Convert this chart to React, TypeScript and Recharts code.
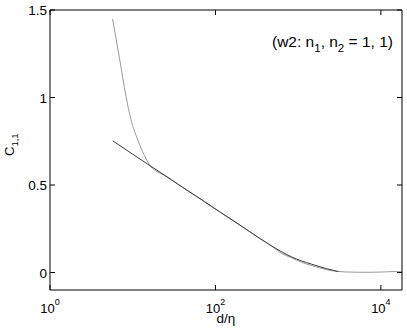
import { LineChart, Line, XAxis, YAxis, Customized } from 'recharts';

// measured curve (gray)
const dataD = [5.7, 6.9, 8.3, 9.5, 11.5, 13.8, 16.6, 20, 24, 40, 67, 120, 205, 330, 473, 650, 826, 1100, 1445, 1800, 2200, 3070, 4500, 6500, 9000, 12000, 15000, 18000];
const dataC = [1.449, 1.227, 1.006, 0.875, 0.758, 0.67, 0.605, 0.575, 0.557, 0.487, 0.418, 0.338, 0.266, 0.2, 0.152, 0.106, 0.085, 0.058, 0.04, 0.027, 0.016, 0.006, 0.002, 0.001, 0.002, 0.004, 0.006, 0.004];

// fitted curve (dark)
const fitD = [5.75, 10, 24, 40, 67, 120, 205, 330, 473, 650, 826, 1100, 1445, 1800, 2200, 3070];
const fitC = [0.752, 0.676, 0.557, 0.487, 0.418, 0.338, 0.266, 0.2, 0.153, 0.115, 0.09, 0.066, 0.048, 0.034, 0.022, 0.005];

const xTicks = [1, 100, 10000];
const xTickExp = ['0', '2', '4'];
const yTicks = [0, 0.5, 1, 1.5];
const yTickLabels = ['0', '0.5', '1', '1.5'];

const measured = dataD.map((d, i) => ({ d, c: dataC[i] }));
const fitted = fitD.map((d, i) => ({ d, c: fitC[i] }));

const FONT = 'Liberation Sans, Arial, Helvetica, sans-serif';
const AXIS = '#000';

function BottomTick({ x, y, payload }: any) {
  const i = xTicks.indexOf(payload.value);
  return (
    <g>
      <line x1={x} y1={y} x2={x} y2={y - 5} stroke={AXIS} />
      <text x={x} y={y + 23} textAnchor="middle" fontSize={13} fontFamily={FONT} fill="#000">
        10
        <tspan dy={-8} fontSize={9}>{xTickExp[i]}</tspan>
      </text>
    </g>
  );
}

function TopTick({ x, y }: any) {
  return <line x1={x} y1={y} x2={x} y2={y + 5} stroke={AXIS} />;
}

function LeftTick({ x, y, payload }: any) {
  const i = yTicks.indexOf(payload.value);
  return (
    <g>
      <line x1={x} y1={y} x2={x + 5} y2={y} stroke={AXIS} />
      <text x={x - 3} y={y + 5} textAnchor="end" fontSize={13.5} fontFamily={FONT} fill="#000">
        {yTickLabels[i]}
      </text>
    </g>
  );
}

function RightTick({ x, y }: any) {
  return <line x1={x} y1={y} x2={x - 5} y2={y} stroke={AXIS} />;
}

function Annotations() {
  return (
    <g fontFamily={FONT} fill="#000">
      <text x={272} y={47} fontSize={15.5}>
        (w2: n<tspan dy={4.5} fontSize={11.5}>1</tspan>
        <tspan dy={-4.5}>, n</tspan>
        <tspan dy={4.5} fontSize={11.5}>2</tspan>
        <tspan dy={-4.5}> = 1, 1)</tspan>
      </text>
      <text x={226} y={323} fontSize={13.5} textAnchor="middle">d/η</text>
      <text transform="translate(14,156) rotate(-90)" fontSize={13}>
        C<tspan dy={4} fontSize={9.5}>1,1</tspan>
      </text>
    </g>
  );
}

export default function App() {
  return (
    <div style={{ position: 'absolute', left: 0, top: 0, background: '#fff' }}>
      <LineChart width={407} height={328} margin={{ top: 9, right: 4, bottom: 0, left: 0 }}>
        <XAxis
          xAxisId="b"
          dataKey="d"
          type="number"
          scale="log"
          domain={[1, 18000]}
          ticks={xTicks}
          allowDataOverflow
          height={38}
          tickSize={0}
          tickMargin={0}
          tickLine={false}
          axisLine={{ stroke: AXIS }}
          tick={<BottomTick />}
        />
        <XAxis
          xAxisId="t"
          dataKey="d"
          type="number"
          scale="log"
          domain={[1, 18000]}
          ticks={xTicks}
          allowDataOverflow
          orientation="top"
          height={1}
          tickSize={0}
          tickMargin={0}
          tickLine={false}
          axisLine={{ stroke: AXIS }}
          tick={<TopTick />}
        />
        <YAxis
          yAxisId="l"
          type="number"
          domain={[-0.1, 1.5]}
          ticks={yTicks}
          allowDataOverflow
          width={50}
          tickSize={0}
          tickMargin={0}
          tickLine={false}
          axisLine={{ stroke: AXIS }}
          tick={<LeftTick />}
        />
        <YAxis
          yAxisId="r"
          type="number"
          domain={[-0.1, 1.5]}
          ticks={yTicks}
          allowDataOverflow
          orientation="right"
          width={1}
          tickSize={0}
          tickMargin={0}
          tickLine={false}
          axisLine={{ stroke: AXIS }}
          tick={<RightTick />}
        />
        <Line
          xAxisId="b"
          yAxisId="l"
          data={measured}
          dataKey="c"
          type="monotone"
          stroke="#9a9a9a"
          strokeWidth={1}
          dot={false}
          isAnimationActive={false}
        />
        <Line
          xAxisId="b"
          yAxisId="l"
          data={fitted}
          dataKey="c"
          type="monotone"
          stroke="#3a3a3a"
          strokeWidth={1}
          dot={false}
          isAnimationActive={false}
        />
        <Customized component={Annotations} />
      </LineChart>
    </div>
  );
}
